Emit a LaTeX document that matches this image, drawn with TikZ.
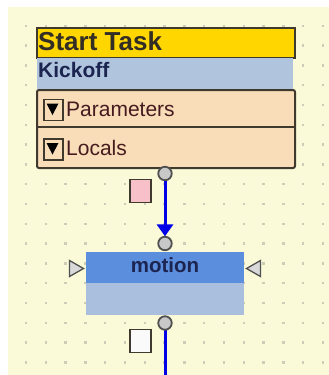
\documentclass[tikz,border=0pt]{standalone}
\usepackage{fontspec}
\setmainfont{Liberation Sans}
\usetikzlibrary{arrows.meta}
\definecolor{bgyellow}{RGB}{250,250,216}
\definecolor{griddot}{RGB}{205,205,185}
\definecolor{gold}{RGB}{255,214,0}
\definecolor{kick}{RGB}{176,196,222}
\definecolor{wheat}{RGB}{248,221,184}
\definecolor{edge}{RGB}{64,58,46}
\definecolor{mhead}{RGB}{92,142,222}
\definecolor{mbody}{RGB}{170,190,221}
\definecolor{navy}{RGB}{28,36,80}
\definecolor{maroon}{RGB}{70,26,30}
\definecolor{flowblue}{RGB}{0,0,230}
\definecolor{portfill}{RGB}{200,200,200}
\definecolor{portedge}{RGB}{80,80,80}
\definecolor{pink}{RGB}{248,192,200}
\tikzset{
  port/.style={circle, draw=portedge, fill=portfill, line width=1.8pt, minimum size=13.5pt, inner sep=0pt},
  flow/.style={draw=flowblue, line width=3pt},
  chk/.style={draw=edge, line width=1.5pt, minimum width=19pt, minimum height=21pt, inner sep=0pt},
  sq/.style={draw=edge, line width=1.5pt, minimum width=21pt, minimum height=23pt, inner sep=0pt},
  lbl/.style={anchor=base west, inner sep=0pt},
  pin/.style={draw=portedge, fill=portfill!70, line width=1.3pt, line join=miter},
}
\begin{document}
\begin{tikzpicture}[x=1pt,y=-1pt]
\useasboundingbox (0,0) rectangle (329,375);
\fill[white] (0,0) rectangle (329,375);
\fill[bgyellow] (8,7) rectangle (329,375);
% grid dots
\foreach \i in {0,...,15}{
  \foreach \j in {1,...,18}{
    \fill[griddot] ({26+19.8*\i-1.2},{6+19.8*\j-1.2}) rectangle ++(2.4,2.4);
  }
}
% Start task block
\node[draw=edge, fill=gold, line width=1.5pt, minimum width=258pt, minimum height=30pt, inner sep=0pt, anchor=north west] (start) at (36,27) {};
\fill[kick] (37,57.8) rectangle (293,89);
\node[lbl, font=\fontsize{26}{26}\selectfont\bfseries, text=edge!80!black] (starttxt) at (38,50.5) {Start Task};
\node[lbl, font=\fontsize{21}{21}\selectfont\bfseries, text=navy] (kicktxt) at (38,77.5) {Kickoff};
\node[draw=edge, fill=wheat, line width=2pt, rounded corners=2pt, minimum width=258pt, minimum height=78pt, inner sep=0pt, anchor=north west] (params) at (36,89) {};
\draw[edge, line width=2pt] (params.west |- 0,127) -- (params.east |- 0,127);
\node[chk, anchor=north west] (chk1) at (43,98.5) {};
\fill[black] (46.5,103.5) -- (58.5,103.5) -- (52.5,115) -- cycle;
\node[chk, anchor=north west] (chk2) at (43,138) {};
\fill[black] (46.5,143) -- (58.5,143) -- (52.5,154.5) -- cycle;
\node[lbl, font=\fontsize{21}{21}\selectfont, text=maroon] (partxt) at (66,116) {Parameters};
\node[lbl, font=\fontsize{21}{21}\selectfont, text=maroon] (loctxt) at (66,155) {Locals};
% ports and flow
\node[sq, fill=pink, anchor=north west] (pinkbox) at (129,178.5) {};
\node[port] (p1) at (165,173.5) {};
\node[port] (p2) at (165,243.5) {};
\draw[flow, -{Triangle[length=12pt,width=16pt]}, shorten >=-0.5pt] (p1) -- (p2);
% motion block
\node[fill=mhead, minimum width=158pt, minimum height=31pt, inner sep=0pt, anchor=north west] (motion) at (86,252) {};
\node[fill=mbody, minimum width=158pt, minimum height=32pt, inner sep=0pt, anchor=north west] (motionbody) at (86,283) {};
\node[font=\fontsize{20.5}{20.5}\selectfont\bfseries, text=navy, anchor=base, inner sep=0pt] (motiontxt) at (165,272) {motion};
\draw[pin] (69.5,260.5) -- (83.5,268.5) -- (69.5,276.5) -- cycle;
\draw[pin] (260.5,260.5) -- (246.5,268.5) -- (260.5,276.5) -- cycle;
\coordinate (bottom) at (165,376);
\draw[flow] (165,323) -- (bottom);
\node[port] (p3) at (165,323) {};
\node[sq, fill=white!96!gray, anchor=north west] (whitebox) at (129,328.5) {};
\end{tikzpicture}
\end{document}
